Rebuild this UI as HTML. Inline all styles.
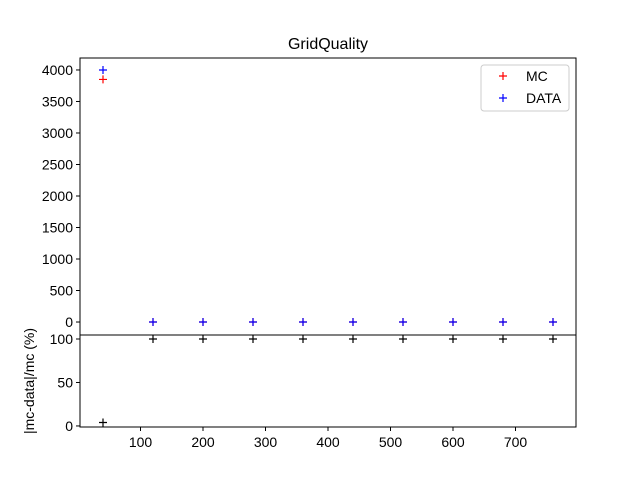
<!DOCTYPE html>
<html><head><meta charset="utf-8"><style>body{margin:0;background:#fff}svg{font-family:"Liberation Sans","DejaVu Sans",sans-serif}</style></head>
<body>
<svg id="c" width="640" height="480" xmlns="http://www.w3.org/2000/svg"></svg>
<script>
const xs=[40,120,200,280,360,440,520,600,680,760];
const mc=[3850,0,0,0,0,0,0,0,0,0];
const data=[4000,0,0,0,0,0,0,0,0,0];
const ratio=[4,100,100,100,100,100,100,100,100,100];
const xTicks=[100,200,300,400,500,600,700];
const yTopTicks=[0,500,1000,1500,2000,2500,3000,3500,4000];
const yBotTicks=[0,50,100];
const L=80,R=576,T1=58,B1=335,T2=335,B2=427;
const sx=v=>L+(v-3.2)/(796.8-3.2)*(R-L);
const sy1=v=>B1-(v+206)/(4190+206)*(B1-T1);
const sy2=v=>B2-(v+1.2)/(104.6+1.2)*(B2-T2);
const svg=document.getElementById('c');
const NS='http://www.w3.org/2000/svg';
function el(t,a,txt){const e=document.createElementNS(NS,t);for(const k in a)e.setAttribute(k,a[k]);if(txt!==undefined)e.textContent=txt;svg.appendChild(e);return e;}
function plus(x,y,c,name){const g=el('path',{d:`M${x-4},${y}h8M${x},${y-4}v8`,stroke:c,'stroke-width':1.2,fill:'none'});

}
let t=el('text',{x:328,y:49,'text-anchor':'middle','font-size':16},'GridQuality');

let a=el('rect',{x:L,y:T1,width:R-L,height:B1-T1,fill:'none',stroke:'#000'});

a=el('rect',{x:L,y:T2,width:R-L,height:B2-T2,fill:'none',stroke:'#000'});

yTopTicks.forEach(v=>{const y=sy1(v);el('line',{x1:L-4,x2:L,y1:y,y2:y,stroke:'#000'});
const tt=el('text',{x:L-7,y:y+5,'text-anchor':'end','font-size':14},v);
});
yBotTicks.forEach(v=>{const y=sy2(v);el('line',{x1:L-4,x2:L,y1:y,y2:y,stroke:'#000'});
const tt=el('text',{x:L-7,y:y+5,'text-anchor':'end','font-size':14},v);
});
xTicks.forEach(v=>{const x=sx(v);el('line',{x1:x,x2:x,y1:B2,y2:B2+4,stroke:'#000'});
const tt=el('text',{x:x,y:B2+20,'text-anchor':'middle','font-size':14},v);
});
t=el('text',{x:0,y:0,'text-anchor':'middle','font-size':14,transform:`translate(34,381) rotate(-90)`},'|mc-data|/mc (%)');

xs.forEach((x,i)=>{plus(sx(x),sy1(mc[i]),'red','mc-point');plus(sx(x),sy1(data[i]),'blue','data-point');plus(sx(x),sy2(ratio[i]),'black','ratio-point');});
const lg=el('rect',{x:481,y:65,width:88,height:46,fill:'#fff',stroke:'#ccc',rx:3});

plus(503,76,'red','legend-mc-marker');plus(503,98,'blue','legend-data-marker');
t=el('text',{x:526,y:81,'font-size':14},'MC');
t=el('text',{x:526,y:103,'font-size':14},'DATA');
</script>
</body></html>
